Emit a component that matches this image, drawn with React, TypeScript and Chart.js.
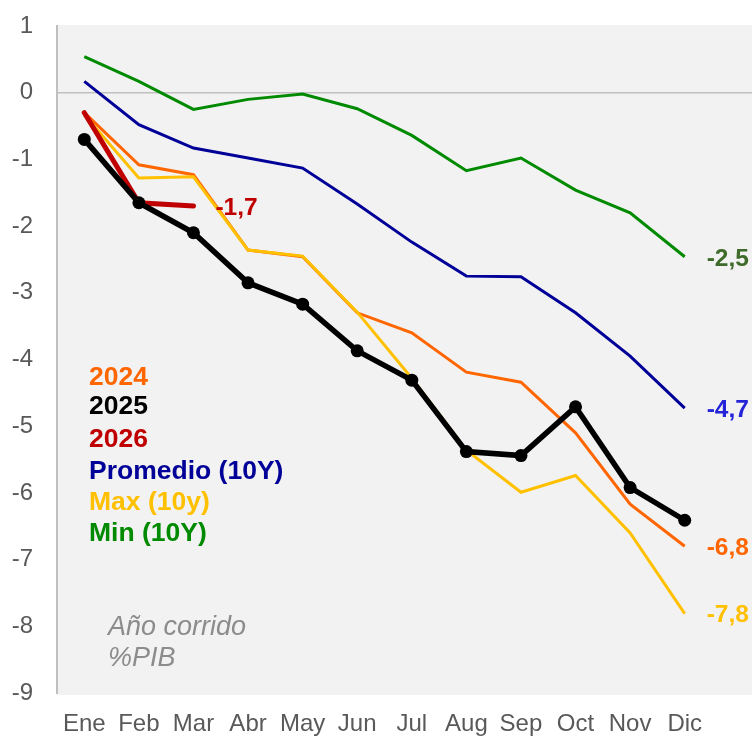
import React, { useEffect, useRef } from "react";
import { Chart, registerables } from "chart.js";

Chart.register(...registerables);

const months = ["Ene", "Feb", "Mar", "Abr", "May", "Jun", "Jul", "Aug", "Sep", "Oct", "Nov", "Dic"];
const yTicks = [1, 0, -1, -2, -3, -4, -5, -6, -7, -8, -9];

const s2025 = [-0.7, -1.65, -2.1, -2.85, -3.17, -3.87, -4.31, -5.38, -5.44, -4.71, -5.92, -6.41];
const s2026 = [-0.3, -1.65, -1.7];
const s2024 = [-0.3, -1.08, -1.23, -2.36, -2.46, -3.3, -3.6, -4.19, -4.34, -5.1, -6.17, -6.8];
const max10 = [-0.33, -1.28, -1.26, -2.36, -2.45, -3.29, -4.28, -5.36, -5.99, -5.74, -6.6, -7.81];
const prom10 = [0.17, -0.48, -0.83, -0.98, -1.13, -1.67, -2.24, -2.75, -2.76, -3.3, -3.95, -4.73];
const min10 = [0.54, 0.17, -0.25, -0.1, -0.02, -0.24, -0.64, -1.17, -0.98, -1.46, -1.8, -2.46];

const legendItems = [
  { text: "2024", color: "#FF6600" },
  { text: "2025", color: "#000000" },
  { text: "2026", color: "#C00000" },
  { text: "Promedio (10Y)", color: "#000099" },
  { text: "Max (10y)", color: "#FFC000" },
  { text: "Min (10Y)", color: "#008A00" },
];
const noteLines = ["Año corrido", "%PIB"];

const FONT = '"Liberation Sans", Arial, sans-serif';

const fmt = (v: number) => v.toFixed(1).replace(".", ",");

export default function App() {
  const ref = useRef<HTMLCanvasElement | null>(null);

  useEffect(() => {
    if (!ref.current) return;

    const decor = {
      id: "decor",
      beforeDraw(chart: any) {
        const { ctx, chartArea, width, height } = chart;
        ctx.save();
        ctx.fillStyle = "#ffffff";
        ctx.fillRect(0, 0, width, height);
        ctx.fillStyle = "#f2f2f2";
        ctx.fillRect(chartArea.left, chartArea.top - 1, width - chartArea.left, chartArea.bottom - chartArea.top + 3);
        ctx.restore();
      },
      beforeDatasetsDraw(chart: any) {
        const { ctx, chartArea, width } = chart;
        const y0 = chart.scales.y.getPixelForValue(0);
        ctx.save();
        ctx.strokeStyle = "#bfbfbf";
        ctx.lineWidth = 1.5;
        ctx.beginPath();
        ctx.moveTo(chartArea.left, y0);
        ctx.lineTo(width, y0);
        ctx.stroke();
        ctx.restore();
      },
      afterDatasetsDraw(chart: any) {
        const { ctx } = chart;
        const xs = chart.scales.x;
        const ys = chart.scales.y;
        ctx.save();
        ctx.textBaseline = "middle";
        ctx.textAlign = "left";
        // legend texts
        ctx.font = `bold 26.5px ${FONT}`;
        const legendY = [378, 407, 440, 472, 503, 534];
        legendItems.forEach((it, i) => {
          ctx.fillStyle = it.color;
          ctx.fillText(it.text, 89, legendY[i]);
        });
        // note
        ctx.font = `italic 27px ${FONT}`;
        ctx.fillStyle = "#8c8c8c";
        ctx.fillText(noteLines[0], 108, 627);
        ctx.fillText(noteLines[1], 108, 658);
        // end labels
        ctx.font = `bold 24.5px ${FONT}`;
        const ends = [
          { data: min10, color: "#3F6B2A" },
          { data: prom10, color: "#2323D8" },
          { data: s2024, color: "#FF6600" },
          { data: max10, color: "#FFC000" },
          { data: s2026, color: "#C00000" },
        ];
        ends.forEach((e) => {
          const i = e.data.length - 1;
          const v = e.data[i];
          ctx.fillStyle = e.color;
          ctx.fillText(fmt(v), xs.getPixelForValue(i) + 22, ys.getPixelForValue(v) + 2);
        });
        ctx.restore();
      },
    };

    const chart = new Chart(ref.current, {
      type: "line",
      data: {
        labels: months,
        datasets: [
          {
            label: "2025",
            data: s2025,
            borderColor: "#000000",
            backgroundColor: "#000000",
            borderWidth: 5.5,
            pointRadius: 6.5,
            pointHoverRadius: 6.5,
            pointBorderWidth: 0,
          },
          {
            label: "2026",
            data: s2026,
            borderColor: "#C00000",
            borderWidth: 5,
            borderCapStyle: "round",
            pointRadius: 0,
          },
          { label: "Max (10y)", data: max10, borderColor: "#FFC000", borderWidth: 3, pointRadius: 0 },
          { label: "2024", data: s2024, borderColor: "#FF6600", borderWidth: 3, pointRadius: 0 },
          { label: "Promedio (10Y)", data: prom10, borderColor: "#000099", borderWidth: 3, pointRadius: 0 },
          { label: "Min (10Y)", data: min10, borderColor: "#008A00", borderWidth: 3, pointRadius: 0 },
        ],
      },
      options: {
        responsive: false,
        devicePixelRatio: 1,
        animation: false,
        events: [],
        layout: { padding: { top: 26, right: 40, bottom: 0, left: 0 } },
        plugins: { legend: { display: false }, tooltip: { enabled: false } },
        scales: {
          x: {
            type: "category",
            offset: true,
            grid: { display: false },
            border: { display: false },
            ticks: {
              color: "#595959",
              font: { family: FONT, size: 24 },
              padding: 9,
              maxRotation: 0,
              autoSkip: false,
            },
            afterFit: (s: any) => {
              s.height = 44;
            },
          },
          y: {
            min: -9,
            max: 1,
            afterBuildTicks: (s: any) => {
              s.ticks = yTicks.map((v) => ({ value: v }));
            },
            grid: { display: false },
            border: { display: true, color: "#bfbfbf", width: 2 },
            ticks: {
              color: "#595959",
              font: { family: FONT, size: 24 },
              padding: 16,
            },
            afterFit: (s: any) => {
              s.width = 57;
              s.paddingTop = 0;
              s.paddingBottom = 0;
            },
          },
        },
      },
      plugins: [decor],
    } as any);

    return () => chart.destroy();
  }, []);

  return (
    <div style={{ position: "absolute", left: 0, top: 0, width: 752, height: 737 }}>
      <canvas ref={ref} width={752} height={737} style={{ display: "block" }} />
    </div>
  );
}
